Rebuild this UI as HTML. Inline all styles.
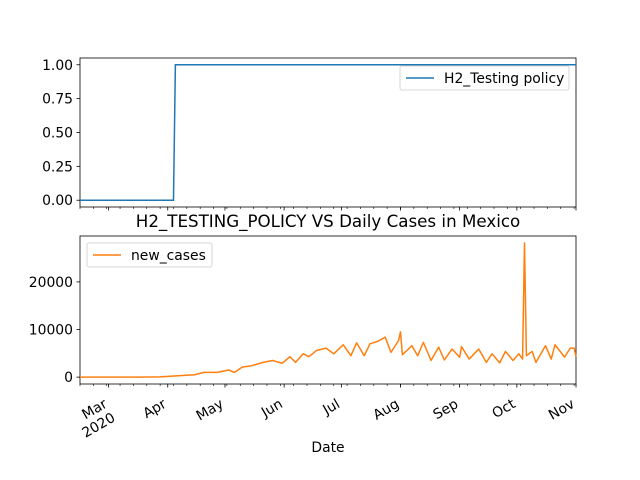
<!DOCTYPE html>
<html><head><meta charset="utf-8"><style>
body{margin:0;background:#fff}
svg{display:block;font-family:"DejaVu Sans","Liberation Sans",sans-serif}
</style></head><body>
<svg id="chart" width="640" height="480" viewBox="0 0 640 480"></svg>
<script>
// data: days since 2020-02-15
const policyDays = [0, 49, 50, 260];
const policyValues = [0, 0, 1, 1];
const caseDays = [0,30,42,60,65,72,78,81,85,90,96,101,106,110,113,117,120,124,129,133,138,142,145,149,152,156,160,163,167,168,169,174,177,180,184,188,191,195,199,200,204,209,213,216,220,223,227,230,232,233,234,237,239,244,247,249,254,257,259,260];
const caseValues = [0,10,50,500,1000,1000,1500,1000,2100,2400,3100,3500,2900,4300,3100,4900,4300,5600,6100,4900,6800,4500,7200,4500,7000,7500,8400,5200,7700,9500,4700,6600,4500,7300,3500,6300,3600,5900,4200,6400,3800,5900,3100,4900,3000,5400,3500,4900,3800,28200,4500,5400,3100,6600,3800,6800,4200,6100,6100,4300];
const monthLabels = ["Mar\n2020","Apr","May","Jun","Jul","Aug","Sep","Oct","Nov"];
const monthDays = [15,46,76,107,137,168,199,229,260];
const topTicks = [0,0.25,0.5,0.75,1.0];
const topTickLabels = ["0.00","0.25","0.50","0.75","1.00"];
const botTicks = [0,10000,20000];
const botTickLabels = ["0","10000","20000"];

const NS="http://www.w3.org/2000/svg";
const svg=document.getElementById('chart');
function el(t,a,p){const e=document.createElementNS(NS,t);for(const k in a)e.setAttribute(k,a[k]);(p||svg).appendChild(e);return e;}
const X0=80,X1=576;
const FS=13.9;
const x=d=>X0+d/260*(X1-X0);
const axTop={y0:58,y1:207,min:-0.05,max:1.05};
const axBot={y0:236,y1:384,min:-1440,max:29640};
const yT=v=>axTop.y1-(v-axTop.min)/(axTop.max-axTop.min)*(axTop.y1-axTop.y0);
const yB=v=>axBot.y1-(v-axBot.min)/(axBot.max-axBot.min)*(axBot.y1-axBot.y0);

function axes(ax,name,ticks,labels,yf){
  const r=el('rect',{x:X0,y:ax.y0,width:X1-X0,height:ax.y1-ax.y0,fill:'none',stroke:'#000','stroke-width':0.8});
  
  
  ticks.forEach((v,i)=>{
    const yy=yf(v);
    el('line',{x1:X0-3.5,x2:X0,y1:yy,y2:yy,stroke:'#000','stroke-width':0.8});
    const t=el('text',{x:X0-7,y:yy+5,'text-anchor':'end','font-size':FS,fill:'#000'});
    t.textContent=labels[i];
    
    
  });
  monthDays.forEach(d=>el('line',{x1:x(d),x2:x(d),y1:ax.y1,y2:ax.y1+3.5,stroke:'#000','stroke-width':0.8}));
  for(let d=0;d<=260;d+=7) el('line',{x1:x(d),x2:x(d),y1:ax.y1,y2:ax.y1+2,stroke:'#000','stroke-width':0.6});
}
axes(axTop,'top-axes',topTicks,topTickLabels,yT);
axes(axBot,'bottom-axes',botTicks,botTickLabels,yB);

const pp=policyDays.map((d,i)=>x(d)+','+yT(policyValues[i])).join(' ');
const pl=el('polyline',{points:pp,fill:'none',stroke:'#1f77b4','stroke-width':1.5});


const cp=caseDays.map((d,i)=>x(d)+','+yB(caseValues[i])).join(' ');
const cl=el('polyline',{points:cp,fill:'none',stroke:'#ff7f0e','stroke-width':1.5,'stroke-linejoin':'round'});



monthDays.forEach((d,i)=>{
  const g=el('g',{transform:`translate(${x(d)-6},${axBot.y1+13}) rotate(-30)`});
  const lines=monthLabels[i].split('\n');
  lines.forEach((s,j)=>{
    const t=el('text',{x:0,y:11+j*16,'text-anchor':'end','font-size':FS,fill:'#000'},g);
    t.textContent=s;
    
    
  });
});

function legend(xx,yy,w,color,label,name){
  const g=el('g',{});
  
  
  el('rect',{x:xx,y:yy,width:w,height:24,rx:2,fill:'#fff','fill-opacity':0.8,stroke:'#ccc','stroke-width':0.8},g);
  el('line',{x1:xx+6,x2:xx+34,y1:yy+12,y2:yy+12,stroke:color,'stroke-width':1.5},g);
  const t=el('text',{x:xx+44,y:yy+17,'font-size':FS,fill:'#000'},g);
  t.textContent=label;
}
legend(400,66,169,'#1f77b4','H2_Testing policy','top-legend');
legend(87,243,125,'#ff7f0e','new_cases','bottom-legend');
</script>
<div style="position:absolute;left:0;top:0;width:640px;height:480px;pointer-events:none">
<div style="position:absolute;left:0;width:656px;top:211px;text-align:center;font:16.7px 'DejaVu Sans','Liberation Sans',sans-serif">H2_TESTING_POLICY VS Daily Cases in Mexico</div>
<div style="position:absolute;left:0;width:656px;top:440px;text-align:center;font:13.9px 'DejaVu Sans','Liberation Sans',sans-serif">Date</div>
</div>
</body></html>
